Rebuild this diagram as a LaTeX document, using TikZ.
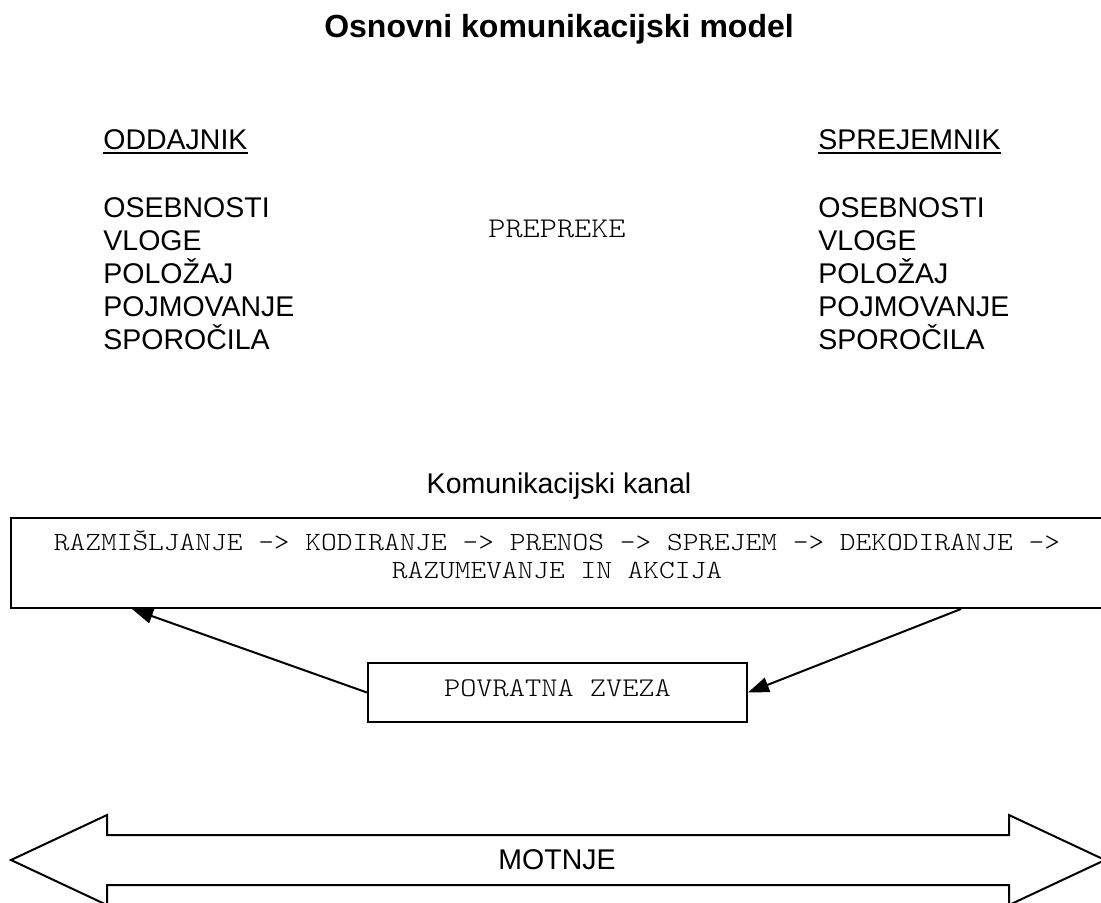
\documentclass[tikz,border=0pt]{standalone}
\usepackage{fontspec}
\setmainfont{Liberation Sans}
\newfontfamily\typewr[FakeStretch=1.143]{Latin Modern Mono Light}
\usetikzlibrary{arrows.meta,positioning,calc}

\newcommand{\hdrline}[1]{\setbox0\hbox{#1}\rlap{\rule[-2.4pt]{\wd0}{1pt}}\box0}

\tikzset{
  sans/.style={font=\fontsize{14.25}{16.5}\selectfont,inner sep=0pt,align=left},
  mono/.style={font=\typewr\fontsize{13.1}{14}\selectfont,inner sep=0pt,align=center},
  boxed/.style={draw,line width=1pt,inner sep=0pt},
  fb/.style={-{Triangle[length=10.5pt,width=7.5pt]},line width=1pt},
}

\begin{document}
\begin{tikzpicture}[x=0.5pt,y=-0.5pt]
  \useasboundingbox (0,0) rectangle (1101,902);
  \node[font=\bfseries\fontsize{16}{19}\selectfont,inner sep=0pt,anchor=base] (title) at (559,37) {Osnovni komunikacijski model};
  \node[sans,anchor=base west] (oddajnik) at (103,149) {\hdrline{ODDAJNIK}};
  \node[sans,anchor=north west] (oddlist) at (103,197) {OSEBNOSTI\\VLOGE\\POLOŽAJ\\POJMOVANJE\\SPOROČILA};
  \node[sans,anchor=base west] (sprejemnik) at (818,149) {\hdrline{SPREJEMNIK}};
  \node[sans,anchor=north west] (sprlist) at (818,197) {OSEBNOSTI\\VLOGE\\POLOŽAJ\\POJMOVANJE\\SPOROČILA};
  \node[mono,font=\typewr\fontsize{14.3}{16}\selectfont,anchor=base] (prepreke) at (557,237) {PREPREKE};
  \node[sans,anchor=base] (kanalname) at (559,493) {Komunikacijski kanal};
  \node[boxed,minimum width=546pt,minimum height=45pt] (kanal) at (557,563) {};
  \node[mono] (kanaltext) at (557,555) {RAZMIŠLJANJE -> KODIRANJE -> PRENOS -> SPREJEM -> DEKODIRANJE ->\\RAZUMEVANJE IN AKCIJA};
  \node[boxed,mono,font=\typewr\fontsize{13.5}{14}\selectfont,text depth=4pt,minimum width=189.5pt,minimum height=29.5pt] (zveza) at (557.5,692.5) {POVRATNA ZVEZA};
  \draw[fb] (zveza.west) -- ($(kanal.south west)+(122,0)$);
  \draw[fb] ($(kanal.south west)+(951,0)$) -- (zveza.east);
  \draw[line width=1pt] (11,860) -- (107,815) -- (107,835) -- (1009,835) -- (1009,815) -- (1105,860)
    -- (1009,905) -- (1009,885) -- (107,885) -- (107,905) -- cycle;
  \node[sans,anchor=center] (motnje) at (557,860) {MOTNJE};
\end{tikzpicture}
\end{document}
